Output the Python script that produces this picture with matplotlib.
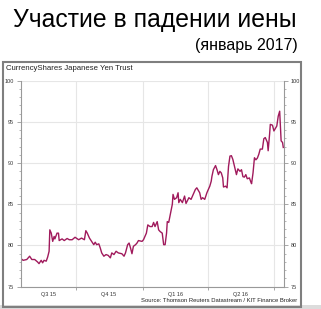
import pandas as pd
import matplotlib.pyplot as plt
import matplotlib.patches as patches

plt.rcParams['font.family'] = ['Liberation Sans', 'DejaVu Sans']

# days after 2015-07-16 and price of the trust
days = [0, 3, 8, 12, 15, 19, 23, 25, 28, 30, 32, 35, 37, 39, 40, 42, 44, 46, 47, 50,
        52, 53, 57, 60, 64, 67, 71, 75, 80, 84, 88, 90, 92, 95, 98, 101, 103, 105, 108, 110,
        112, 115, 118, 121, 124, 126, 129, 132, 135, 140, 143, 145, 148, 150, 152, 154, 156, 159, 161, 163,
        168, 170, 174, 176, 179, 182, 184, 186, 189, 191, 193, 196, 198, 200, 202, 203, 205, 207, 210, 211,
        213, 216, 218, 219, 221, 224, 227, 229, 233, 236, 240, 242, 244, 248, 250, 252, 255, 258, 262, 264,
        265, 267, 270, 272, 274, 276, 278, 280, 281, 284, 286, 288, 290, 292, 294, 296, 299, 301, 304, 306,
        308, 310, 312, 314, 317, 319, 320, 322, 324, 326, 328, 330, 332, 335, 337, 339, 342, 343, 345, 346,
        349, 351, 353, 355, 357, 359, 360, 361, 363, 364]
price = [78.4, 78.2, 78.3, 78.7, 78.3, 78.3, 78.0, 77.8, 78.2, 77.9, 78.2, 78.1, 78.6, 79.3, 81.9, 81.5, 80.5, 81.1, 80.8, 81.5,
         81.5, 80.6, 80.8, 80.6, 80.85, 80.7, 80.7, 81.0, 80.7, 80.9, 80.7, 81.8, 81.5, 80.9, 80.5, 80.1, 80.4, 80.1, 80.2, 79.7,
         79.1, 78.7, 78.9, 78.8, 78.5, 79.1, 78.9, 79.3, 79.1, 79.0, 78.7, 79.1, 80.1, 80.3, 79.7, 79.0, 79.9, 80.1, 80.3, 80.6,
         80.5, 80.7, 81.5, 82.5, 82.3, 82.3, 82.8, 82.3, 82.9, 81.9, 81.7, 81.5, 80.1, 80.1, 81.5, 82.9, 82.8, 83.7, 85.0, 86.2,
         85.6, 85.8, 86.4, 85.2, 85.6, 85.2, 86.0, 85.1, 85.8, 85.6, 86.4, 86.8, 87.0, 86.4, 85.6, 85.8, 85.6, 86.4, 87.2, 87.8,
         88.4, 89.2, 89.7, 89.2, 88.6, 89.0, 88.8, 88.2, 87.1, 87.2, 87.0, 89.6, 90.85, 90.9, 90.45, 89.7, 88.6, 89.3, 89.0, 89.2,
         88.35, 88.3, 88.6, 88.1, 88.2, 87.7, 87.5, 88.8, 90.65, 90.4, 90.6, 91.06, 91.7, 91.7, 92.96, 93.1, 92.5, 91.5, 93.5, 94.7,
         94.6, 93.9, 94.2, 94.5, 95.7, 96.3, 94.5, 92.7, 92.5, 91.9]

quarter_starts = ['2015-10-01', '2016-01-01', '2016-04-01', '2016-07-01']
quarter_mids = ['2015-08-23', '2015-11-15', '2016-02-15', '2016-05-16']
quarter_labels = ['Q3 15', 'Q4 15', 'Q1 16', 'Q2 16']

dates = pd.Timestamp('2015-07-16') + pd.to_timedelta(days, unit='D')

fig = plt.figure(figsize=(3.21, 3.09), dpi=100)

# titles
fig.text(0.483, 0.935, 'Участие в падении иены', ha='center', va='center', fontsize=17.8)
fig.text(0.928, 0.852, '(январь 2017)', ha='right', va='center', fontsize=11.5)

# grey frame around the chart
fig.patches.append(patches.Rectangle((0, 0), 1, 4 / 309, transform=fig.transFigure,
                                     facecolor='#dcdcdc', edgecolor='none'))
fig.patches.append(patches.Rectangle((3 / 321, 0.005), 298 / 321, 1 - 62 / 309 - 0.005,
                                     transform=fig.transFigure, fill=False,
                                     edgecolor='#7f7f7f', linewidth=1.5))
fig.text(6 / 321, 1 - 69 / 309, 'CurrencyShares Japanese Yen Trust', ha='left', va='center',
         fontsize=5.6, color='#222222')
fig.text(297 / 321, 1 - 300 / 309, 'Source: Thomson Reuters Datastream / KIT Finance Broker',
         ha='right', va='center', fontsize=4.2, color='#222222')

ax = fig.add_axes([21 / 321, 1 - 286.7 / 309, 263 / 321, 206 / 309])
ax.plot(dates, price, color='#a01a5c', linewidth=1.0)

ax.set_ylim(75, 100)
ax.set_xlim(pd.Timestamp('2015-07-16'), pd.Timestamp('2016-07-15'))
ax.set_yticks([75, 80, 85, 90, 95, 100])
ax.set_yticks(range(75, 101), minor=True)
ax.set_xticks(pd.to_datetime(quarter_starts))
ax.set_xticklabels([])
ax.set_xticks(pd.to_datetime(quarter_mids), minor=True)
ax.set_xticklabels(quarter_labels, minor=True)

ax.grid(True, which='major', color='#e6e6e6', linewidth=0.8)
ax.set_axisbelow(True)
ax.spines['top'].set_visible(False)
for s in ['left', 'right', 'bottom']:
    ax.spines[s].set_color('#999999')
    ax.spines[s].set_linewidth(0.8)

ax.tick_params(axis='y', which='both', left=True, right=True, labelleft=True, labelright=True,
               labelsize=4, colors='#999999', labelcolor='#333333', pad=2)
ax.tick_params(axis='y', which='major', length=3, width=0.6)
ax.tick_params(axis='y', which='minor', length=1.5, width=0.5)
ax.tick_params(axis='x', which='major', length=2, width=0.6, colors='#999999')
ax.tick_params(axis='x', which='minor', length=0, labelsize=4, labelcolor='#333333', pad=4)

fig.savefig('out.png', dpi=100)
